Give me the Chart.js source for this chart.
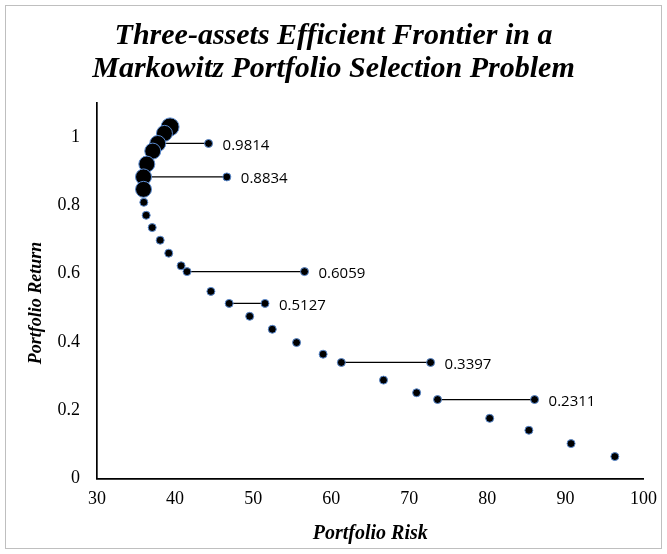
<!DOCTYPE html>
<html>
<head>
<meta charset="utf-8">
<title>Three-assets Efficient Frontier</title>
<script src="https://cdn.jsdelivr.net/npm/chart.js@4.4.0/dist/chart.umd.min.js"></script>
<style>
html,body{margin:0;padding:0;background:#fff;}
#wrap{position:relative;width:667px;height:554px;}
</style>
</head>
<body>
<div id="wrap"><canvas id="chart" width="667" height="554"></canvas></div>
<script>
// frontier points (risk, return)
const riskX   = [39.36, 38.64, 37.78, 37.14, 36.38, 35.96, 35.96, 36.00, 36.30, 37.07,
                 38.09, 39.19, 40.77, 41.53, 44.59, 46.93, 49.56, 52.45, 55.56, 58.96,
                 61.30, 66.70, 70.94, 73.62, 80.30, 85.32, 90.72, 96.33];
const returnY = [1.030, 1.011, 0.9814, 0.959, 0.921, 0.8834, 0.847, 0.809, 0.771, 0.735,
                 0.698, 0.660, 0.623, 0.6059, 0.548, 0.5127, 0.475, 0.437, 0.398, 0.364,
                 0.3397, 0.288, 0.251, 0.2311, 0.176, 0.141, 0.102, 0.064];

// labelled returns: a line runs from the frontier point out to a second dot
const labelY     = [0.9814, 0.8834, 0.6059, 0.5127, 0.3397, 0.2311];
const labelFromX = [37.78, 35.96, 41.53, 46.93, 61.30, 73.62];
const labelToX   = [44.29, 46.63, 56.58, 51.52, 72.73, 86.05];

const xTicks = [30, 40, 50, 60, 70, 80, 90, 100];
const yTicks = [0, 0.2, 0.4, 0.6, 0.8, 1];

const dotBorder = '#5b8bd0';
const serif = "'Liberation Serif', 'Times New Roman', serif";

const datasets = [{
    type: 'scatter',
    data: riskX.map((x, i) => ({x: x, y: returnY[i]})),
    pointRadius: c => c.dataIndex === 0 ? 9 : (c.dataIndex < 7 ? 8 : 4),
    pointBackgroundColor: '#000',
    pointBorderColor: dotBorder,
    pointBorderWidth: 1,
    showLine: false
}];
labelY.forEach((y, i) => {
    datasets.push({
        type: 'line',
        data: [{x: labelFromX[i], y: y}, {x: labelToX[i], y: y}],
        borderColor: '#000',
        borderWidth: 1.3,
        pointRadius: c => c.dataIndex === 1 ? 4 : 0,
        pointBackgroundColor: '#000',
        pointBorderColor: dotBorder,
        pointBorderWidth: 1,
        fill: false
    });
});

// white background + thin grey frame
const frame = {
    id: 'frame',
    beforeDraw(chart) {
        const c = chart.ctx;
        c.save();
        c.fillStyle = '#fff';
        c.fillRect(0, 0, chart.width, chart.height);
        c.strokeStyle = '#bfbfbf';
        c.lineWidth = 1;
        c.strokeRect(5.5, 5.5, chart.width - 11, chart.height - 11);
        c.restore();
    }
};

// value text next to the end dot of each labelled line
const endLabels = {
    id: 'endLabels',
    afterDatasetsDraw(chart) {
        const c = chart.ctx;
        c.save();
        c.font = "15px 'Open Sans', sans-serif";
        c.fillStyle = '#000';
        c.textAlign = 'left';
        c.textBaseline = 'middle';
        labelY.forEach((y, i) => {
            const pt = chart.getDatasetMeta(i + 1).data[1];
            c.fillText(y.toFixed(4), pt.x + 14, pt.y + 2);
        });
        c.restore();
    }
};

// y axis title sits a bit below the middle of the axis in the original
const yTitle = {
    id: 'yTitle',
    afterDraw(chart) {
        const c = chart.ctx;
        c.save();
        c.translate(36, 303);
        c.rotate(-Math.PI / 2);
        c.font = 'italic bold 18px ' + serif;
        c.fillStyle = '#000';
        c.textAlign = 'center';
        c.textBaseline = 'middle';
        c.fillText('Portfolio Return', 0, 0);
        c.restore();
    }
};

new Chart(document.getElementById('chart'), {
    data: {datasets: datasets},
    plugins: [frame, endLabels, yTitle],
    options: {
        responsive: false,
        animation: false,
        devicePixelRatio: 1,
        layout: {padding: {left: 21, right: 21, top: 0, bottom: 8}},
        plugins: {
            legend: {display: false},
            tooltip: {enabled: false},
            title: {
                display: true,
                text: ['Three-assets Efficient Frontier in a', 'Markowitz Portfolio Selection Problem'],
                color: '#000',
                font: {family: serif, size: 30, weight: 'bold', style: 'italic', lineHeight: 1.1},
                padding: {top: 20, bottom: 17}
            }
        },
        scales: {
            x: {
                type: 'linear',
                min: 30, max: 100,
                afterBuildTicks: s => { s.ticks = xTicks.map(v => ({value: v})); },
                grid: {display: false, drawTicks: false},
                border: {display: true, color: '#000', width: 1.7},
                ticks: {color: '#000', padding: 10, font: {family: serif, size: 18}},
                title: {display: true, text: 'Portfolio Risk', color: '#000',
                        font: {family: serif, size: 20, weight: 'bold', style: 'italic'},
                        padding: {top: 2, bottom: 0}}
            },
            y: {
                type: 'linear',
                min: 0, max: 1.1,
                afterBuildTicks: s => { s.ticks = yTicks.map(v => ({value: v})); },
                afterFit: s => { s.width = 76; },
                grid: {display: false, drawTicks: false},
                border: {display: true, color: '#000', width: 1.7},
                ticks: {color: '#000', padding: 17, font: {family: serif, size: 18},
                        callback: v => String(v)}
            }
        }
    }
});
</script>
</body>
</html>
